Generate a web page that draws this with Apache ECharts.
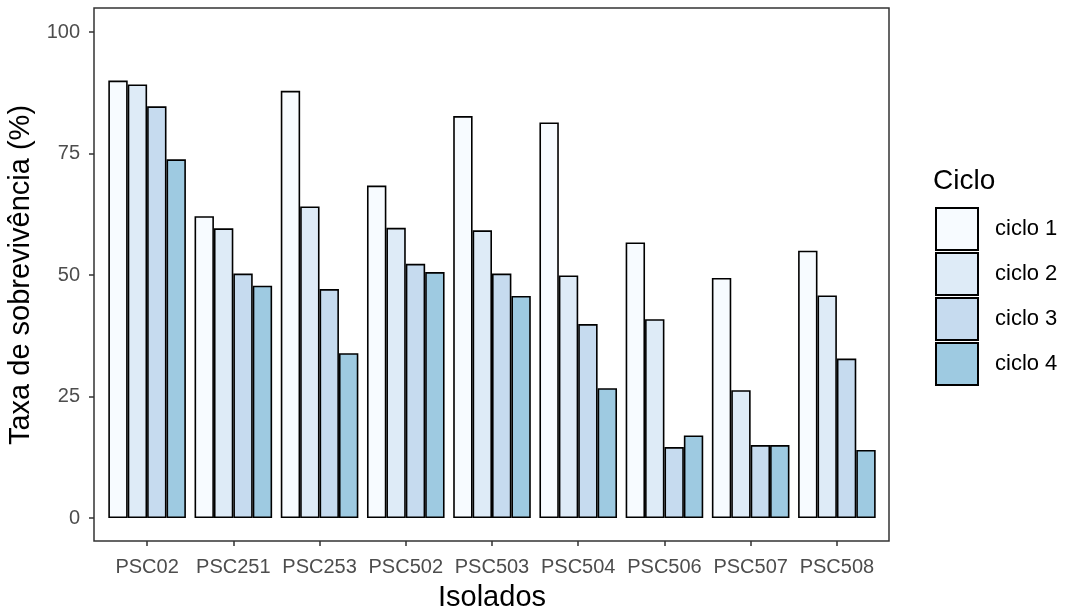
<!DOCTYPE html>
<html>
<head>
<meta charset="utf-8">
<script src="https://cdn.jsdelivr.net/npm/echarts@6/dist/echarts.min.js"></script>
<style>html,body{margin:0;padding:0;background:#fff;}#c{width:1066px;height:612px;}</style>
</head>
<body>
<div id="c"></div>
<script>
const categories = ['PSC02','PSC251','PSC253','PSC502','PSC503','PSC504','PSC506','PSC507','PSC508'];
const seriesNames = ['ciclo 1','ciclo 2','ciclo 3','ciclo 4'];
const ciclo1 = [90.0, 62.1, 87.9, 68.4, 82.7, 81.4, 56.7, 49.4, 55.0];
const ciclo2 = [89.2, 59.6, 64.1, 59.7, 59.2, 49.9, 40.9, 26.3, 45.8];
const ciclo3 = [84.7, 50.3, 47.1, 52.3, 50.3, 39.9, 14.6, 15.0, 32.8];
const ciclo4 = [73.8, 47.8, 33.9, 50.6, 45.7, 26.7, 17.0, 15.0, 14.0];
const yTicks = [0, 25, 50, 75, 100];
const colors = ['#F7FBFF','#DEEBF7','#C6DBEF','#9ECAE1'];

const FONT = 'Liberation Sans, Arial, sans-serif';
const chart = echarts.init(document.getElementById('c'), null, {renderer:'canvas'});
const allData = [ciclo1, ciclo2, ciclo3, ciclo4];

chart.setOption({
  animation: false,
  backgroundColor: '#ffffff',
  textStyle: {fontFamily: FONT},
  title: {
    text: 'Ciclo', left: 933, top: 167, padding: 0,
    textStyle: {fontFamily: FONT, fontSize: 28, fontWeight: 'normal', color: '#000'}
  },
  legend: {
    orient: 'vertical', left: 935, top: 207, padding: 0,
    itemWidth: 42, itemHeight: 42, itemGap: 1, icon: 'rect',
    data: seriesNames,
    textStyle: {fontFamily: FONT, fontSize: 22, color: '#000', padding: [10,0,0,12]}
  },
  grid: [
    // data grid: y 0..100 maps to 518..32
    {left: 104, top: 32, width: 776, height: 486, containLabel: false, outerBoundsMode: 'none'},
    // panel grid: carries the category ticks and labels at the panel bottom
    {left: 104, top: 8, width: 776, height: 533, containLabel: false, outerBoundsMode: 'none'}
  ],
  graphic: [{
    type: 'rect', shape: {x: 94, y: 8, width: 795, height: 533}, z: 100,
    style: {fill: 'none', stroke: '#333333', lineWidth: 1.5}, silent: true
  }],
  xAxis: [{
    gridIndex: 0, type: 'category', data: categories, boundaryGap: true, show: false
  }, {
    gridIndex: 1, type: 'category', data: categories, boundaryGap: true,
    axisLine: {show: true, onZero: false, lineStyle: {color: 'rgba(0,0,0,0)'}},
    axisTick: {show: true, alignWithLabel: true, length: 5, lineStyle: {color: '#333333', width: 1.5}},
    axisLabel: {fontFamily: FONT, fontSize: 20, color: '#4D4D4D', margin: 16, interval: 0},
    name: 'Isolados', nameLocation: 'middle', nameGap: 42,
    nameTextStyle: {fontFamily: FONT, fontSize: 29, color: '#000'}
  }],
  yAxis: [{
    gridIndex: 0, type: 'value', min: yTicks[0], max: yTicks[yTicks.length-1], interval: 25, offset: 10,
    splitLine: {show: false},
    axisLine: {show: false},
    axisTick: {show: true, length: 5, lineStyle: {color: '#333333', width: 1.5}},
    axisLabel: {fontFamily: FONT, fontSize: 20, color: '#4D4D4D', margin: 14},
    name: 'Taxa de sobrevivência (%)', nameLocation: 'middle', nameGap: 53,
    nameTextStyle: {fontFamily: FONT, fontSize: 29, color: '#000'}
  }, {
    gridIndex: 1, type: 'value', show: false, min: 0, max: 1
  }],
  series: allData.map((d, i) => ({
    name: seriesNames[i], type: 'bar', data: d,
    xAxisIndex: 0, yAxisIndex: 0,
    barWidth: 19.4, barGap: '0%',
    itemStyle: {color: colors[i], borderColor: '#000', borderWidth: 1.6}
  }))
});
</script>
</body>
</html>
